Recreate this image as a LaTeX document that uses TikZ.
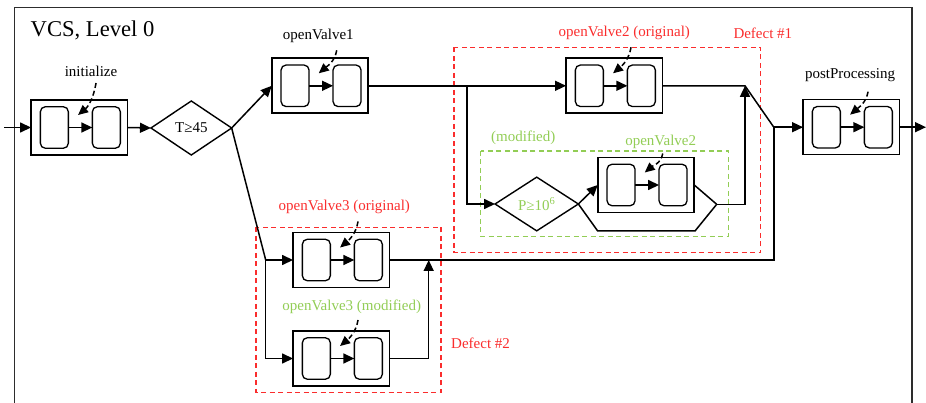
\documentclass[tikz,border=0pt]{standalone}
\usepackage{fontspec}
\setmainfont{Liberation Serif}
\usetikzlibrary{arrows.meta,calc,shapes.geometric}

\definecolor{defectred}{RGB}{250,45,45}
\definecolor{modgreen}{RGB}{146,205,85}
\definecolor{framegray}{RGB}{45,45,45}

\tikzset{
  arr/.style={line width=1.5pt,-{Triangle[length=11pt,width=10pt]}},
  conn/.style={line width=1.5pt},
  dasharr/.style={line width=1.5pt,dash pattern=on 5pt off 3pt,-{Triangle[length=10pt,width=9pt]}},
  vouter/.style={draw,line width=1.6pt,minimum width=96.5pt,minimum height=55pt,inner sep=0pt,outer sep=0pt},
  vinner/.style={draw,line width=1.3pt,rounded corners=5pt,minimum width=28pt,minimum height=41.5pt,inner sep=0pt,outer sep=0pt},
  decision/.style={draw,diamond,line width=1.4pt,inner sep=0pt,outer sep=0pt,font=\fontsize{15}{17}\selectfont},
  lbl/.style={inner sep=0pt,font=\fontsize{15}{17}\selectfont},
  defectbox/.style={draw=defectred,line width=1.5pt,dash pattern=on 5pt off 3.5pt},
  modbox/.style={draw=modgreen,line width=1.5pt,dash pattern=on 5pt off 3.5pt},
  frameline/.style={draw=framegray,line width=1.5pt}
}

% A process block: outer frame, two rounded states, inner transition and
% the dashed pointer from the block label.
% #1 name, #2 centre, #3 height of the pointer start above the frame
\newcommand{\procblock}[3]{%
  \node[vouter] (#1) at (#2) {};
  \node[vinner] (#1l) at ($(#1.west)+(23.3,0)$) {};
  \node[vinner] (#1r) at ($(#1.west)+(75.3,0)$) {};
  \draw[arr] (#1l.east) -- (#1r.west);
  \coordinate (#1ds) at ($(#1.north west)+(65,-#3)$);
  \coordinate (#1dt) at ($(#1.north west)+(47,15)$);
  \draw[dasharr] (#1ds) to[out=-100,in=40] (#1dt);
}

\begin{document}
\begin{tikzpicture}[x=1pt,y=-1pt]
\useasboundingbox (0,0) rectangle (926,403);

% outer frame (open at the bottom)
\draw[frameline] (14.7,403) -- (14.7,7.3) -- (912,7.3) -- (912,403);
\node[anchor=west,inner sep=0pt,font=\fontsize{22.6}{25}\selectfont] (title) at (30.5,30) {VCS, Level 0};

% defect regions
\draw[defectbox] (454,47.3) rectangle (760.7,252.7);
\draw[modbox] (480.7,151) rectangle (728.3,236.7);
\draw[defectbox] (256,227.3) rectangle (441,392.3);

% process blocks
\procblock{init}{79.3,127.5}{17}
\procblock{ovone}{320,85.8}{8}
\procblock{ovtwo}{614.3,85.8}{11}
\procblock{ovtwom}{646,185}{4}
\procblock{ovthree}{341.3,260}{11}
\procblock{ovthreem}{341.3,358.5}{11}
\procblock{post}{851.3,127.2}{8}

% decisions
\node[decision,minimum width=80.7pt,minimum height=54pt] (T) at (191.3,128) {T≥45};
\node[decision,minimum width=83.3pt,minimum height=53.7pt,text=modgreen] (P) at (536.7,204) {P≥10\textsuperscript{6}};

% labels
\node[lbl] (linit) at (91,71.7) {initialize};
\node[lbl] (lovone) at (318.3,36) {openValve1};
\node[lbl,text=defectred] (lovtwo) at (624.3,33.3) {openValve2 (original)};
\node[lbl,text=defectred,anchor=west] (ldefone) at (733.3,33.3) {Defect \#1};
\node[lbl,text=modgreen] (lmod) at (523.3,138.3) {(modified)};
\node[lbl,text=modgreen] (lovtwom) at (660.7,141.7) {openValve2};
\node[lbl,text=defectred] (lovthree) at (344.3,207.3) {openValve3 (original)};
\node[lbl,text=modgreen] (lovthreem) at (351.7,306.7) {openValve3 (modified)};
\node[lbl,text=defectred,anchor=west] (ldeftwo) at (451,343) {Defect \#2};
\node[lbl] (lpost) at (850,75) {postProcessing};

% junction points
\coordinate (in) at (4,127.5);
\coordinate (out) at (926,127.2);
\coordinate (jthree) at (265.7,260);
\coordinate (jtwo) at (467,85.8);
\coordinate (bypass) at (716.7,204.3);
\coordinate (jmerge) at (745,85.8);
\coordinate (jright) at (773.8,127.2);
\coordinate (jlow) at (773.8,260);
\coordinate (jup) at (428.7,260);

% connectors
\draw[arr] (in) -- (init.west);
\draw[arr] (init.east) -- (T.west);
\draw[arr] (T.east) -- (ovone.west);
\draw[conn] (T.east) -- (jthree);
\draw[arr] (jthree) -- (ovthree.west);
\draw[arr] (jthree) |- (ovthreem.west);
\draw[arr] (ovone.east) -- (ovtwo.west);
\draw[arr] (jtwo) |- (P.west);
\draw[arr] (P.east) -- (ovtwom.west);
\draw[conn] (P.east) -- (597.7,231) -- (695,231) -- (bypass);
\draw[conn] (ovtwom.east) -- (bypass);
\draw[arr] (bypass) -| (jmerge);
\draw[conn] (ovtwo.east) -- (jmerge) -- (jright);
\draw[arr] (jright) -- (post.west);
\draw[conn] (jright) -- (jlow) -- (ovthree.east);
\draw[arr] (ovthreem.east) -| (jup);
\draw[arr] (post.east) -- (out);
\end{tikzpicture}
\end{document}
